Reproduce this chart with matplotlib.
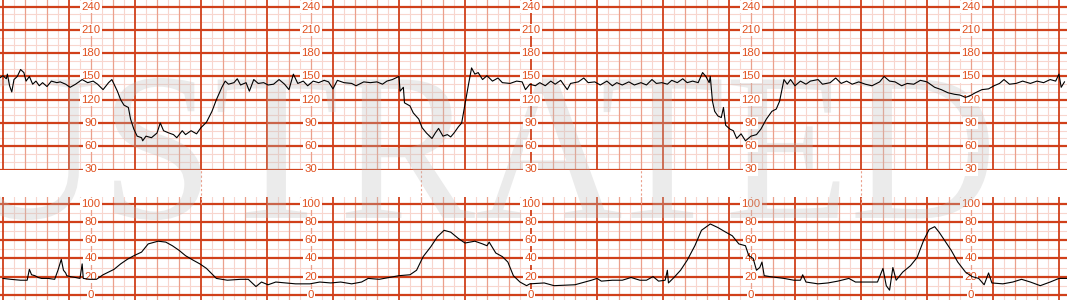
import matplotlib
matplotlib.use("Agg")
import matplotlib.pyplot as plt
import numpy as np
from matplotlib.textpath import TextPath
from matplotlib.patches import PathPatch
from matplotlib.font_manager import FontProperties
from matplotlib.transforms import Affine2D

# fetal heart rate trace (time in seconds, bpm)
fhr_t = [-3, 0, 3, 4, 6, 8, 10, 13, 16, 19, 21, 24, 27, 30, 33, 36, 40, 44, 49, 52,
         57, 61, 66, 72, 77, 82, 86, 91, 96, 99, 104, 107, 110, 114, 116, 119, 122, 126, 127, 130,
         135, 140, 143, 146, 151, 155, 158, 163, 166, 171, 176, 180, 185, 190, 194, 199, 202, 205, 210, 213,
         216, 221, 224, 228, 232, 237, 241, 246, 251, 256, 260, 264, 268, 273, 277, 282, 287, 292, 296, 300,
         304, 310, 317, 321, 328, 334, 340, 345, 349, 354, 360, 361, 364, 365, 370, 373, 378, 381, 385, 390,
         393, 396, 400, 404, 407, 410, 414, 417, 420, 423, 426, 429, 432, 436, 440, 445, 450, 454, 461, 467,
         472, 475, 479, 484, 488, 493, 498, 502, 507, 513, 516, 523, 528, 532, 538, 543, 549, 554, 558, 563,
         569, 574, 580, 585, 590, 594, 599, 604, 608, 613, 618, 622, 627, 632, 636, 639, 642, 643, 645, 647,
         650, 653, 655, 657, 661, 664, 667, 671, 675, 680, 685, 689, 694, 699, 703, 706, 710, 713, 716, 720,
         725, 730, 734, 741, 745, 752, 757, 762, 767, 772, 778, 784, 790, 797, 801, 806, 811, 817, 822, 828,
         834, 840, 847, 853, 859, 865, 870, 875, 879, 884, 890, 896, 901, 906, 910, 915, 921, 927, 934, 940,
         946, 952, 957, 960, 962, 965]
fhr_bpm = [148, 151, 147, 153, 138, 130, 146, 150, 159, 155, 144, 150, 140, 144, 138, 142, 137, 144, 142, 143,
           140, 136, 140, 146, 142, 144, 140, 133, 142, 146, 131, 120, 113, 110, 95, 82, 73, 71, 67, 73,
           71, 77, 90, 80, 77, 75, 71, 80, 75, 80, 76, 84, 91, 105, 120, 136, 144, 140, 142, 147,
           139, 142, 131, 146, 141, 142, 139, 140, 146, 140, 133, 153, 141, 144, 138, 144, 142, 145, 143, 134,
           145, 142, 141, 138, 143, 142, 143, 140, 144, 146, 150, 131, 136, 116, 112, 103, 95, 84, 77, 70,
           77, 83, 73, 75, 72, 77, 85, 90, 114, 138, 161, 153, 155, 146, 151, 144, 148, 142, 141, 144,
           143, 133, 140, 138, 142, 138, 144, 140, 145, 133, 141, 143, 148, 142, 143, 139, 144, 138, 142, 139,
           143, 139, 142, 139, 146, 141, 142, 140, 145, 142, 147, 142, 144, 142, 155, 150, 142, 150, 118, 105,
           99, 97, 110, 87, 82, 80, 70, 76, 67, 73, 75, 82, 95, 105, 108, 118, 146, 140, 146, 138,
           144, 140, 144, 146, 140, 142, 148, 141, 144, 140, 143, 140, 138, 143, 150, 144, 143, 138, 141, 140,
           145, 143, 136, 133, 129, 127, 126, 123, 125, 129, 133, 134, 138, 141, 146, 140, 141, 144, 141, 144,
           142, 146, 144, 153, 136, 143]

# uterine activity trace (time in seconds, mmHg)
ua_t = [0, 7, 16, 22, 24, 26, 29, 32, 35, 41, 47, 50, 53, 55, 57, 58, 61, 66, 70, 72,
        73, 79, 85, 91, 101, 107, 113, 119, 126, 132, 141, 148, 154, 160, 166, 173, 179, 185, 194, 204,
        216, 223, 230, 235, 241, 248, 257, 266, 279, 288, 298, 307, 317, 326, 332, 342, 351, 360, 370, 376,
        382, 389, 395, 401, 407, 414, 420, 429, 436, 440, 442, 448, 454, 459, 464, 470, 476, 479, 492, 501,
        520, 529, 535, 540, 544, 554, 563, 571, 579, 585, 591, 596, 602, 604, 605, 610, 616, 622, 629, 635,
        643, 650, 657, 663, 669, 675, 678, 682, 685, 688, 690, 692, 697, 710, 719, 725, 727, 730, 741, 750,
        759, 769, 775, 787, 795, 800, 803, 806, 809, 812, 818, 825, 831, 837, 842, 847, 851, 856, 862, 868,
        875, 881, 887, 892, 896, 899, 909, 918, 926, 934, 943, 952, 960, 967]
ua_val = [18, 17, 16, 16, 28, 22, 21, 19, 18, 18, 17, 27, 39, 27, 24, 21, 20, 19, 18, 34,
          18, 17, 17, 22, 28, 34, 39, 43, 47, 56, 59, 58, 54, 49, 43, 38, 34, 29, 18, 16,
          17, 17, 9, 14, 11, 14, 13, 12, 12, 14, 13, 14, 12, 14, 18, 17, 19, 21, 22, 27,
          42, 53, 64, 71, 69, 62, 57, 59, 56, 54, 58, 46, 42, 36, 21, 14, 10, 12, 13, 10,
          11, 14, 16, 18, 15, 16, 16, 19, 16, 16, 20, 15, 16, 27, 13, 19, 27, 38, 54, 71,
          78, 74, 69, 65, 56, 54, 43, 40, 27, 30, 36, 21, 20, 18, 16, 16, 22, 14, 12, 13,
          15, 18, 14, 14, 14, 29, 10, 5, 30, 16, 25, 32, 41, 60, 72, 75, 69, 60, 49, 36,
          25, 20, 18, 11, 24, 13, 12, 14, 17, 14, 10, 14, 18, 18]

fhr_labels = [240, 210, 180, 150, 120, 90, 60, 30]
ua_labels = [100, 80, 60, 40, 20, 0]
label_cols = [80, 280, 480, 680, 880]
page_marks = [180, 380, 580, 780]

DARK = "#d0401a"
MID = "#eba08c"
LIGHT = "#f8d6ce"
TEXT = "#e0501e"
t_lim = (-2.7, 967.3)
W, H = 1067, 300


def draw_paper(ax, y0, y1, fine, bold):
    # vertical lines: 10 s light, 20 s medium, 60 s major
    for t in np.arange(0, t_lim[1], 10):
        if t % 60 == 0:
            ax.axvline(t, color=DARK, lw=1.3, zorder=1)
        elif t % 20 == 0:
            ax.axvline(t, color=MID, lw=0.9, zorder=0.6)
        else:
            ax.axvline(t, color=LIGHT, lw=0.8, zorder=0.5)
    for v in np.arange(y0, y1 + 1, fine):
        if v % bold == 0:
            ax.axhline(v, color=DARK, lw=1.6, zorder=1)
        else:
            ax.axhline(v, color=LIGHT, lw=0.8, zorder=0.5)


def draw_labels(ax, values):
    for c in label_cols:
        for v in values:
            ax.text(c, v, str(v), ha="center", va="center", color=TEXT,
                    fontsize=8.2, family="Liberation Sans", zorder=2,
                    bbox=dict(facecolor="white", edgecolor="none", pad=0.8))


def add_watermark(ax):
    # big serif word stretched so "STRATED" spans x 114..989 px, caps 142 px tall
    prop = FontProperties(family="Liberation Serif")
    full = TextPath((0, 0), "ILLUSTRATED", size=1, prop=prop)
    part = TextPath((0, 0), "STRATED", size=1, prop=prop)
    fe = full.get_extents()
    pe = part.get_extents()
    sx = (989 - 114) / pe.width
    sy = 142 / fe.height
    tr = (Affine2D().translate(-fe.x1, -fe.y0).scale(sx / W, sy / H)
          .translate(989 / W, 80 / H) + ax.figure.transFigure)
    patch = PathPatch(full, transform=tr, facecolor="#bdbdbd", edgecolor="none",
                      alpha=0.3, zorder=1.5)
    patch.set_clip_on(False)
    ax.add_artist(patch)


fig = plt.figure(figsize=(W / 100, H / 100), dpi=100)
fig.patch.set_facecolor("white")

# contractions strip drawn first, heart rate strip on top of it
ax_ua = fig.add_axes([0, 0, 1, 0.3433], zorder=1)
ax_fhr = fig.add_axes([0, 0.435, 1, 0.565], zorder=2)

for ax in (ax_fhr, ax_ua):
    ax.set_facecolor("none")
    ax.set_xlim(*t_lim)
    ax.axis("off")

ax_fhr.set_ylim(30, 248.6)
ax_ua.set_ylim(-5.8, 107.7)

draw_paper(ax_fhr, 30, 250, 10, 30)
draw_paper(ax_ua, 0, 100, 10, 20)
draw_labels(ax_fhr, fhr_labels)
draw_labels(ax_ua, ua_labels)

# dashed page marks in the gap between the strips
ax_fhr.vlines(page_marks, -14.5, 30, colors=MID, lw=0.8,
              linestyles=(0, (2, 2)), clip_on=False, zorder=0.5)

add_watermark(ax_fhr)

ax_fhr.plot(fhr_t, fhr_bpm, color="black", lw=0.8, zorder=3)
ax_ua.plot(ua_t, ua_val, color="black", lw=0.8, zorder=3)

plt.savefig("out.png", dpi=100, facecolor="white")
